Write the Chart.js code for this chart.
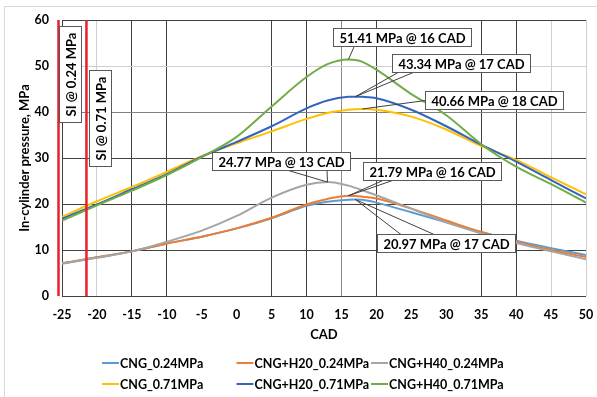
<!DOCTYPE html>
<html>
<head>
<meta charset="utf-8">
<script src="https://cdn.jsdelivr.net/npm/chart.js@4.4.0/dist/chart.umd.min.js"></script>
<style>
  body { margin: 0; background: #fff; }
  canvas { display: block; }
</style>
</head>
<body>
<canvas id="pressureChart" width="597" height="397"></canvas>
<script>
// crank angle positions (CAD) where the curves were read
const cad = [-25, -20, -15, -10, -5, 0, 5, 10, 13, 16, 17, 18, 20, 25, 30, 35, 40, 45, 50];

// in-cylinder pressure, MPa
const cng024    = [7.1, 8.4, 9.7, 11.4, 12.9, 14.7, 16.9, 19.6, 20.5, 20.95, 20.97, 20.9, 20.3, 18.2, 16.0, 13.9, 12.0, 10.4, 8.9];
const cngH20024 = [7.1, 8.4, 9.7, 11.4, 12.9, 14.7, 17.0, 19.9, 21.1, 21.79, 21.75, 21.6, 21.2, 19.0, 16.4, 13.9, 11.8, 10.0, 8.5];
const cngH40024 = [7.0, 8.3, 9.7, 11.8, 14.2, 17.4, 21.4, 24.2, 24.77, 24.0, 23.5, 23.0, 21.9, 19.0, 16.0, 13.6, 11.5, 9.7, 8.0];
const cng071    = [17.2, 20.6, 23.7, 27.0, 30.4, 33.2, 35.8, 38.5, 39.8, 40.5, 40.6, 40.66, 40.5, 39.0, 36.2, 32.6, 29.6, 25.8, 22.1];
const cngH20071 = [16.8, 19.9, 23.2, 26.5, 30.3, 33.5, 36.9, 40.8, 42.5, 43.3, 43.34, 43.3, 43.0, 40.5, 36.9, 32.9, 29.2, 25.2, 21.2];
const cngH40071 = [16.4, 19.7, 22.9, 26.3, 30.2, 34.6, 41.2, 47.6, 50.4, 51.41, 51.3, 50.9, 49.2, 43.9, 39.3, 33.0, 28.1, 24.3, 20.3];

const seriesNames = ['CNG_0.24MPa', 'CNG+H20_0.24MPa', 'CNG+H40_0.24MPa',
                     'CNG_0.71MPa', 'CNG+H20_0.71MPa', 'CNG+H40_0.71MPa'];
const seriesValues = [cng024, cngH20024, cngH40024, cng071, cngH20071, cngH40071];
const seriesColors = ['#5B9BD5', '#ED7D31', '#A5A5A5', '#FFC000', '#3464BE', '#70AD47'];

// spark timing markers
const siCad = [-25.5, -21.5];
const siNames = ['SI @ 0.24 MPa', 'SI @ 0.71 MPa'];

// label boxes: which series peak, box centre in (CAD, MPa), leader start as fraction of box
const peakNotes = [
  { series: 5, at: [23.6, 56.4], from: [[0.15, 1]] },
  { series: 4, at: [32.1, 50.6], from: [[0.04, 1], [0.15, 1]] },
  { series: 3, at: [36.9, 42.7], from: [[0, 0.5]] },
  { series: 2, at: [6.4, 29.3], from: [[0.55, 1], [0.83, 1]] },
  { series: 1, at: [28.0, 27.2], from: [[0.14, 1], [0.21, 1]] },
  { series: 0, at: [29.9, 11.6], from: [[0.17, 0], [0.41, 0]] }
];
const siNotes = [
  { at: [-23.8, 48.3] },
  { at: [-19.5, 38.6] }
];

Chart.defaults.font.family = 'Lato';
Chart.defaults.color = '#000';

const datasets = seriesNames.map((name, i) => ({
  label: name,
  data: cad.map((c, k) => ({ x: c, y: seriesValues[i][k] })),
  borderColor: seriesColors[i],
  backgroundColor: seriesColors[i],
  borderWidth: 2,
  pointRadius: 0,
  cubicInterpolationMode: 'monotone',
  order: 5 - i
}));
siCad.forEach((c, i) => {
  datasets.push({
    label: siNames[i],
    data: [{ x: c, y: 0 }, { x: c, y: 60 }],
    borderColor: '#E8202A',
    borderWidth: 2.5,
    pointRadius: 0,
    clip: false,
    order: -1
  });
});

const xGridColor = {'-20': '#d0d0d0', '-5': 'rgba(0,0,0,0)', '0': 'rgba(0,0,0,0)', '15': '#8c8c8c',
                    '25': 'rgba(0,0,0,0)', '30': 'rgba(0,0,0,0)', '45': '#d0d0d0', '50': '#d0d0d0'};
const yGridColor = {'40': '#808080', '50': '#d0d0d0'};

const framePlugin = {
  id: 'frame',
  beforeDraw(chart) {
    const ctx = chart.ctx;
    ctx.save();
    ctx.strokeStyle = '#d9d9d9';
    ctx.lineWidth = 1;
    ctx.strokeRect(4.5, 6.5, chart.width + 10, chart.height + 10);
    ctx.restore();
  }
};

function drawBox(ctx, text, w, h) {
  ctx.fillStyle = '#fff';
  ctx.fillRect(-w / 2, -h / 2, w, h);
  ctx.strokeStyle = '#595959';
  ctx.lineWidth = 1;
  ctx.strokeRect(-w / 2, -h / 2, w, h);
  ctx.fillStyle = '#000';
  ctx.textAlign = 'center';
  ctx.textBaseline = 'middle';
  ctx.fillText(text, 0, 1);
}

const notesPlugin = {
  id: 'notes',
  afterDatasetsDraw(chart) {
    const { ctx, scales: { x, y } } = chart;
    ctx.save();
    ctx.font = 'bold 13px Lato';
    peakNotes.forEach(n => {
      const vals = seriesValues[n.series];
      const k = vals.indexOf(Math.max(...vals));
      const text = vals[k].toFixed(2) + ' MPa @ ' + cad[k] + ' CAD';
      const w = Math.round(ctx.measureText(text).width + 12), h = 18;
      const cx = Math.round(x.getPixelForValue(n.at[0])) + 0.5;
      const cy = Math.round(y.getPixelForValue(n.at[1])) + 0.5;
      const px = x.getPixelForValue(cad[k]), py = y.getPixelForValue(vals[k]);
      ctx.strokeStyle = '#404040';
      ctx.lineWidth = 1;
      n.from.forEach(([fx, fy]) => {
        ctx.beginPath();
        ctx.moveTo(cx - w / 2 + fx * w, cy - h / 2 + fy * h);
        ctx.lineTo(px, py);
        ctx.stroke();
      });
      ctx.save();
      ctx.translate(cx, cy);
      drawBox(ctx, text, w, h);
      ctx.restore();
    });
    siNotes.forEach((n, i) => {
      const text = siNames[i];
      const w = Math.round(ctx.measureText(text).width + 12), h = 22;
      ctx.save();
      ctx.translate(Math.round(x.getPixelForValue(n.at[0])) + 0.5, Math.round(y.getPixelForValue(n.at[1])) + 0.5);
      ctx.rotate(-Math.PI / 2);
      drawBox(ctx, text, w, h);
      ctx.restore();
    });
    ctx.restore();
  }
};

const legendPlugin = {
  id: 'gridLegend',
  afterDraw(chart) {
    const ctx = chart.ctx;
    const colW = 134.5, left = 102, rows = [363, 384];
    ctx.save();
    ctx.font = 'bold 12.5px Lato';
    ctx.textBaseline = 'middle';
    ctx.textAlign = 'left';
    seriesNames.forEach((name, i) => {
      const x0 = left + (i % 3) * colW, y0 = rows[Math.floor(i / 3)];
      ctx.strokeStyle = seriesColors[i];
      ctx.lineWidth = 2;
      ctx.beginPath();
      ctx.moveTo(x0, y0);
      ctx.lineTo(x0 + 17, y0);
      ctx.stroke();
      ctx.fillStyle = '#000';
      ctx.fillText(name, x0 + 18, y0 + 1);
    });
    ctx.restore();
  }
};

new Chart(document.getElementById('pressureChart'), {
  type: 'line',
  data: { datasets },
  plugins: [framePlugin, notesPlugin, legendPlugin],
  options: {
    responsive: false,
    devicePixelRatio: 1,
    animation: false,
    layout: { padding: { left: 0, right: 11, top: 20, bottom: 51 } },
    plugins: { legend: { display: false }, tooltip: { enabled: false } },
    scales: {
      x: {
        type: 'linear',
        min: -25,
        max: 50,
        afterFit: s => { s.height = 50; s.paddingLeft = 0; s.paddingRight = 0; },
        ticks: { stepSize: 5, padding: 11, font: { size: 12.5, weight: 'bold' } },
        grid: { drawTicks: false, color: c => xGridColor[String(c.tick.value)] || '#404040' },
        border: { display: false },
        title: { display: true, text: 'CAD', font: { size: 13, weight: 'bold' }, padding: { top: 0, bottom: 3 } }
      },
      y: {
        min: 0,
        max: 60,
        afterFit: s => { s.width = 62; s.paddingTop = 0; s.paddingBottom = 0; },
        ticks: { stepSize: 10, padding: 13, font: { size: 12.5, weight: 'bold' } },
        grid: { drawTicks: false, color: c => yGridColor[String(c.tick.value)] || '#404040' },
        border: { display: false },
        title: { display: true, text: 'In-cylinder pressure, MPa', font: { size: 13, weight: 'bold' }, padding: { top: 17, bottom: 0 } }
      }
    }
  }
});
</script>
</body>
</html>
